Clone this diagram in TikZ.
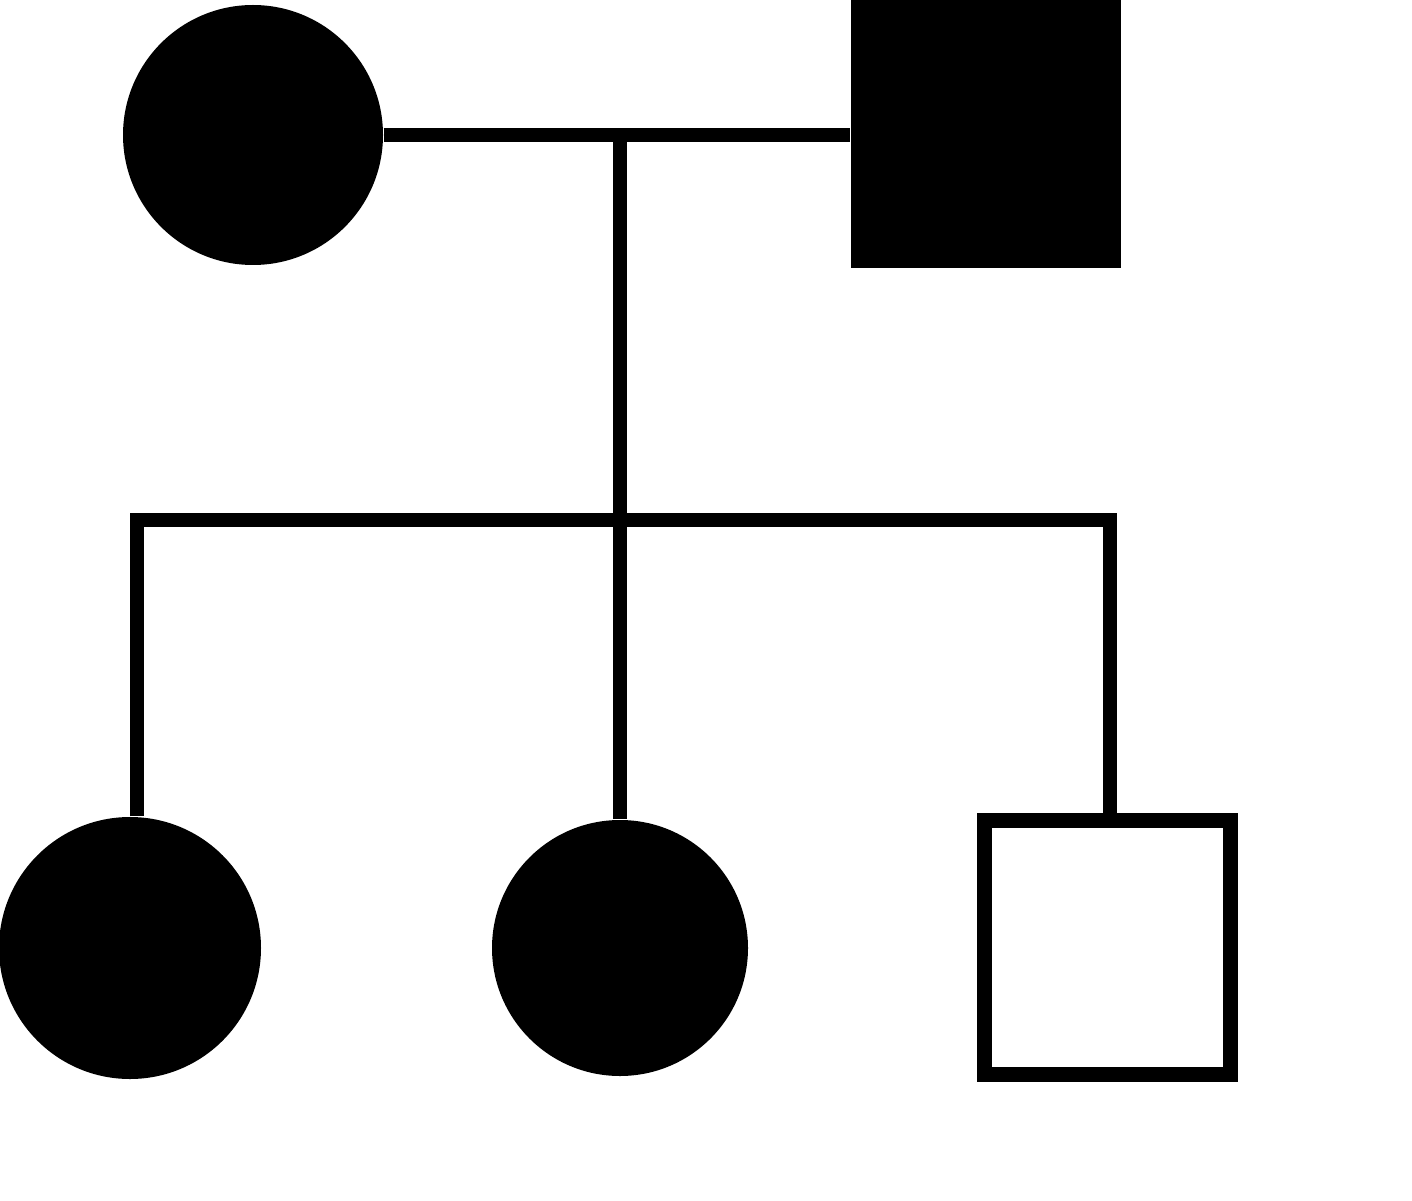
\documentclass[tikz,border=0pt]{standalone}
\begin{document}
\begin{tikzpicture}[
  affc/.style={circle,fill=black,draw=none,inner sep=0pt},
  affs/.style={rectangle,fill=black,draw=none,inner sep=0pt},
  unas/.style={rectangle,draw=black,fill=white,line width=0.15cm,inner sep=0pt},
  link/.style={line width=0.14cm,line cap=butt,line join=miter}
]
\useasboundingbox (0,0) rectangle (14.12,12);
% parents
\node[affc,minimum size=2.60cm] (mother) at (2.53,10.65) {};
\node[affs,minimum width=2.70cm,minimum height=2.74cm] (father) at (9.86,10.69) {};
% children
\node[affc,minimum size=2.62cm] (c1) at (1.30,2.52) {};
\node[affc,minimum size=2.56cm] (c2) at (6.20,2.52) {};
\node[unas,minimum width=2.46cm,minimum height=2.54cm] (c3) at (11.075,2.525) {};
% coordinates
\coordinate (m) at (6.20,10.65);
\coordinate (s) at (6.20,6.80);
\coordinate (sl) at (1.37,6.80);
\coordinate (sr) at (11.10,6.80);
% connectors
\draw[link] (mother.east) -- (mother.east -| father.west);
\draw[link] (m) -- (s);
\draw[link] (sl |- c1.north) -- (sl) -- (sr) -- (sr |- c3.north);
\draw[link] (s) -- (c2.north);
\end{tikzpicture}
\end{document}
